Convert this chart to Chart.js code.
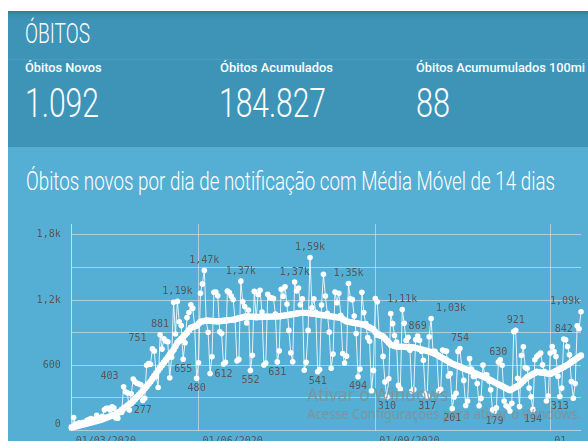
<!DOCTYPE html>
<html><head><meta charset="utf-8">
<script src="https://cdn.jsdelivr.net/npm/chart.js@4.4.0/dist/chart.umd.min.js"></script>
<style>
html,body{margin:0;padding:0;width:588px;height:441px;overflow:hidden;background:#fff;font-family:Roboto,sans-serif;}
#hdr{position:absolute;left:8px;top:11px;width:580px;height:136px;background:linear-gradient(#2e7b9c 0px,#3a8fb2 4px,#3d94b7 10px,#3d94b7 100%);}
#sep{position:absolute;left:8px;top:59px;width:580px;height:1px;background:rgba(255,255,255,0.07);}
#panel{position:absolute;left:8px;top:147px;width:580px;height:294px;background:#55aed4;}
.t{position:absolute;white-space:nowrap;transform-origin:0 0;color:#fff;line-height:1;}
#wrap{position:absolute;left:8px;top:200px;width:580px;height:260px;}
.wm{position:absolute;white-space:nowrap;transform-origin:0 0;color:rgba(135,140,145,0.8);font-family:"Noto Sans",sans-serif;line-height:1;}
</style></head>
<body>
<div id="hdr"></div><div id="sep"></div>
<div id="panel"></div>
<div class="t" id="t1" style="left:25px;top:20px;font-size:28px;font-weight:300">ÓBITOS</div>
<div class="t" id="s1" style="left:25px;top:62px;font-size:12.5px;font-weight:500">Óbitos Novos</div>
<div class="t" id="s2" style="left:219.5px;top:62px;font-size:12.5px;font-weight:500">Óbitos Acumulados</div>
<div class="t" id="s3" style="left:416px;top:62px;font-size:12.5px;font-weight:500">Óbitos Acumumulados 100mi</div>
<div class="t" id="n1" style="left:25px;top:83px;font-size:41px;font-weight:300">1.092</div>
<div class="t" id="n2" style="left:219px;top:83px;font-size:41px;font-weight:300">184.827</div>
<div class="t" id="n3" style="left:416px;top:83px;font-size:41px;font-weight:300">88</div>
<div class="t" id="ti" style="left:25.5px;top:168.5px;font-size:25px;font-weight:300">Óbitos novos por dia de notificação com Média Móvel de 14 dias</div>
<div id="wrap"><canvas id="c" width="580" height="260"></canvas></div>
<div class="wm" id="w1" style="left:307px;top:385px;font-size:18px">Ativar o Windows</div>
<div class="wm" id="w2" style="left:307px;top:408px;font-size:13.5px">Acesse Configurações para ativar o Windows.</div>
<script>
// ---- data ----
const startDate = '2020-03-27';
const newDeaths = [
  // Mar 27-31
  5,120,60,55,70,
  // Apr
  65,75,70,95,100,110,90,105,140,120,115,130,190,204,204,188,217,206,115,113,166,165,403,357,346,189,338,474,449,435,
  // May
  428,421,277,296,600,615,610,751,730,496,396,881,749,844,824,816,485,674,1179,888,1188,1001,965,655,807,1039,1086,1156,1124,956,480,
  // Jun
  623,1262,1349,1473,1005,904,525,679,1272,1274,1239,909,892,612,627,1282,1269,1238,1206,1022,641,654,1374,1185,1141,990,1109,552,692,1280,
  // Jul
  1038,1252,1290,1091,602,620,1254,1223,1220,1214,1071,631,733,1300,1233,1322,1163,921,716,632,1367,1284,1311,1156,1211,555,627,921,1592,1129,1212,
  // Aug
  1088,541,561,1154,1437,1237,1079,905,572,703,1274,1175,1262,1060,709,620,684,1352,1212,1204,1054,892,494,565,1271,1085,984,855,821,366,553,
  // Sep
  1215,1184,888,874,682,447,310,476,1075,983,874,814,415,381,1113,987,829,858,739,363,377,836,869,831,729,647,335,317,863,1031,
  // Oct
  729,728,695,366,378,740,734,730,502,524,201,309,342,728,754,573,461,230,271,661,566,497,502,432,228,296,602,510,513,457,375,
  // Nov
  190,179,209,630,650,600,271,227,216,180,250,910,921,480,220,690,770,580,570,390,310,194,651,680,697,712,604,543,272,317,
  // Dec 1-17
  712,773,727,681,500,313,390,842,835,773,697,450,297,433,964,936,1092
];
const movingAvg14 = [
  30,33,37,41,45,50,55,
  59,64,68,73,78,82,87,92,97,
  103,110,117,124,130,137,143,
  152,163,174,
  188,202,215,228,241,254,
  272,290,309,327,346,
  366,387,408,429,450,
  476,502,528,554,580,
  603,627,650,673,697,720,743,
  775,808,
  826,845,863,882,900,
  923,946,
  952,958,964,
  982,1000,
  1004,1009,1013,
  1011,1010,1008,1007,1005,1004,
  1006,1008,1010,1012,1014,1016,1018,1020,
  1024,1028,1033,1037,1041,1046,1050,
  1049,1048,1047,1046,1046,1045,1045,1046,1046,1047,1047,1048,1048,1049,1049,1050,1050,
  1053,1056,1059,1062,1065,1068,1070,1073,1076,1079,1082,
  1082,1082,1082,
  1080,1078,1075,1073,1071,1068,1066,
  1063,1061,1058,1055,1052,1050,1047,1044,1041,1040,1038,
  1027,1015,1004,
  1001,997,994,990,987,984,980,977,974,
  965,956,948,939,930,
  906,882,
  877,871,866,
  847,827,808,789,
  784,778,773,
  772,771,770,769,768,767,766,766,765,
  760,756,751,746,741,737,732,727,
  720,712,705,697,
  687,677,666,656,646,636,625,615,
  608,600,593,586,579,572,564,557,550,
  542,534,527,519,511,503,496,488,480,
  471,462,453,443,434,425,416,407,398,389,379,370,
  380,390,400,410,420,
  438,455,473,490,
  500,510,520,530,540,
  537,534,531,528,526,523,520,
  529,539,548,557,567,576,585,595,604,
  617,630,
  642,654,666,678,690
];
const axisTickDates = ['27/03/2020','01/06/2020','01/09/2020','01/12/2020'];
const axisTickText  = ['01/03/2020','01/06/2020','01/09/2020','01'];
const yGridValues   = [0,300,600,900,1200,1500,1800];
const yTickValues   = [0,600,1200,1800];
const yTickText     = ['0','600','1,2k','1,8k'];
const labelledDays  = ['23/04/2020','03/05/2020','08/05/2020','12/05/2020','21/05/2020','24/05/2020','31/05/2020',
  '04/06/2020','14/06/2020','23/06/2020','28/06/2020','12/07/2020','21/07/2020','29/07/2020','02/08/2020',
  '18/08/2020','23/08/2020','07/09/2020','15/09/2020','23/09/2020','28/09/2020','30/09/2020','11/10/2020',
  '15/10/2020','02/11/2020','04/11/2020','13/11/2020','22/11/2020','06/12/2020','08/12/2020','17/12/2020'];

// ---- category labels (dates) ----
const dateLabels = [];
(function(){
  const d0 = new Date(startDate + 'T12:00:00Z');
  for (let i = 0; i < newDeaths.length; i++) {
    const d = new Date(d0.getTime() + i * 86400000);
    const dd = String(d.getUTCDate()).padStart(2,'0');
    const mm = String(d.getUTCMonth()+1).padStart(2,'0');
    dateLabels.push(dd + '/' + mm + '/' + d.getUTCFullYear());
  }
})();
const tickIndex = {};
axisTickDates.forEach((d,k) => { tickIndex[dateLabels.indexOf(d)] = axisTickText[k]; });
const labelIdx = labelledDays.map(d => dateLabels.indexOf(d));

function fmtVal(v){
  if (v >= 1000) return (v/1000).toFixed(2).replace('.', ',') + 'k';
  return String(v);
}

const gridCol = 'rgba(228,228,228,0.62)';
const monoFont = {family:'"DejaVu Sans Mono", monospace', size:10};
const textCol = '#575757';

const pointLabels = {
  id:'pointLabels',
  afterDatasetsDraw(chart, args, opts){
    const meta = chart.getDatasetMeta(1);
    const ctx = chart.ctx;
    const area = chart.chartArea;
    ctx.save();
    ctx.font = '10px "DejaVu Sans Mono", monospace';
    ctx.fillStyle = textCol;
    ctx.textAlign = 'center';
    labelIdx.forEach(i => {
      const p = meta.data[i];
      const v = newDeaths[i];
      const prev = i > 0 ? newDeaths[i-1] : newDeaths[i+1];
      const next = i < newDeaths.length-1 ? newDeaths[i+1] : prev;
      const above = v >= (prev + next) / 2;
      const txt = fmtVal(v);
      const w = ctx.measureText(txt).width;
      let x = p.x + (opts.shift[i] || 0);
      x = Math.min(x, area.right - w/2 - 1);
      ctx.textBaseline = above ? 'bottom' : 'top';
      ctx.fillText(txt, x, above ? p.y - 5 : p.y + 5);
    });
    ctx.restore();
  }
};

const shift = {};
shift[labelIdx[0]] = -14;   // 403
shift[labelIdx[2]] = -15;   // 751
shift[labelIdx[21]] = 20;   // 1,03k

new Chart(document.getElementById('c'), {
  type:'line',
  data:{
    labels: dateLabels,
    datasets:[
      {label:'Média Móvel 14 dias', data: movingAvg14, borderColor:'#ffffff', borderWidth:5,
       pointRadius:3.2, pointBackgroundColor:'#ffffff', pointBorderWidth:0, tension:0},
      {label:'Óbitos novos', data: newDeaths, borderColor:'rgba(255,255,255,0.85)', borderWidth:1,
       pointRadius:2.8, pointBackgroundColor:'#ffffff', pointBorderWidth:0, tension:0}
    ]
  },
  options:{
    responsive:false, animation:false, devicePixelRatio:1,
    layout:{padding:{left:0,right:7,top:24,bottom:0}},
    plugins:{legend:{display:false}, tooltip:{enabled:false}, pointLabels:{shift}},
    scales:{
      x:{
        grid:{color: c => (c.index in tickIndex) ? gridCol : 'rgba(0,0,0,0)', drawTicks:false, lineWidth:1},
        border:{display:false},
        ticks:{autoSkip:false, maxRotation:0, minRotation:0, align:'start', labelOffset:4, padding:5,
               font:monoFont, color:textCol, callback:(v,i) => (i in tickIndex) ? tickIndex[i] : ''},
        afterFit: s => { s.height = 29.5; }
      },
      y:{
        min:0, max:1900,
        afterBuildTicks: s => { s.ticks = yGridValues.map(v => ({value:v})); },
        grid:{color: gridCol, drawTicks:false},
        border:{display:true, color:gridCol},
        ticks:{padding:11, font:monoFont, color:textCol,
               callback: v => { const k = yTickValues.indexOf(v); if (k < 0) return ''; return v === 0 ? [yTickText[k], ''] : yTickText[k]; }},
        afterFit: s => { s.width = 63.7; }
      }
    }
  },
  plugins:[pointLabels]
});

function fit(id, w){
  const el = document.getElementById(id);
  el.style.transform = 'none';
  const nw = el.getBoundingClientRect().width;
  el.style.transform = 'scaleX(' + (w / nw) + ')';
}
function fitAll(){
  fit('t1',65); fit('s1',76.5); fit('s2',113); fit('s3',169);
  fit('n1',74); fit('n2',107); fit('n3',34); fit('ti',529);
  fit('w1',141); fit('w2',274);
}
fitAll();
if (document.fonts && document.fonts.ready) document.fonts.ready.then(fitAll);
</script>
</body></html>
